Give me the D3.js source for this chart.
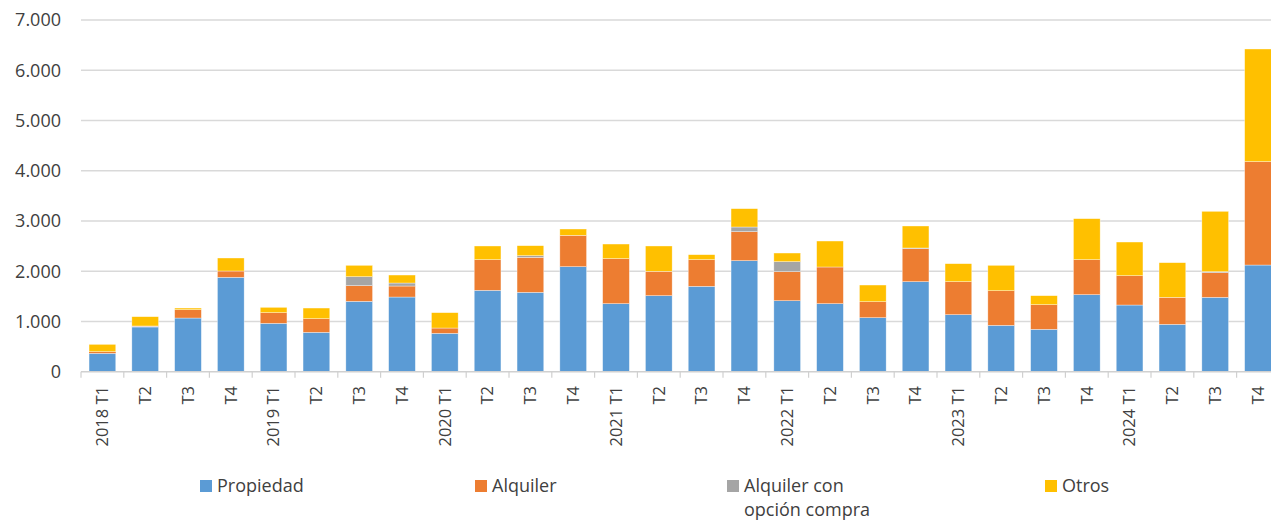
<!DOCTYPE html>
<html>
<head>
<meta charset="utf-8">
<script src="https://cdn.jsdelivr.net/npm/d3@7"></script>
<style>
  body { margin: 0; background: #fff; }
  svg text { font-family: "Open Sans", sans-serif; fill: #404040; }
</style>
</head>
<body>
<script>
// quarters 2018 T1 .. 2024 T4
const categories = [
  "2018 T1", "T2", "T3", "T4",
  "2019 T1", "T2", "T3", "T4",
  "2020 T1", "T2", "T3", "T4",
  "2021 T1", "T2", "T3", "T4",
  "2022 T1", "T2", "T3", "T4",
  "2023 T1", "T2", "T3", "T4",
  "2024 T1", "T2", "T3", "T4"
];

const propiedad = [365, 890, 1068, 1878, 962, 783, 1400, 1486, 763, 1619, 1579, 2090,
  1354, 1513, 1699, 2210, 1413, 1354, 1075, 1792, 1135, 922, 843, 1533, 1327, 942, 1480, 2123];
const alquiler = [33, 15, 166, 126, 213, 272, 312, 219, 106, 611, 697, 624,
  896, 484, 531, 577, 578, 730, 318, 657, 657, 690, 491, 697, 584, 538, 491, 2058];
const opcionCompra = [0, 5, 0, 0, 0, 0, 179, 60, 0, 0, 33, 0,
  0, 0, 0, 93, 199, 0, 0, 13, 0, 0, 0, 0, 0, 0, 20, 0];
const otros = [146, 185, 33, 259, 106, 212, 226, 159, 306, 272, 199, 126,
  291, 505, 99, 365, 172, 517, 332, 438, 358, 505, 179, 816, 670, 690, 1201, 2242];

const seriesNames = ["Propiedad", "Alquiler", "Alquiler con opción compra", "Otros"];
const seriesColors = ["#5B9BD5", "#ED7D31", "#A5A5A5", "#FFC000"];
const yTicks = [0, 1000, 2000, 3000, 4000, 5000, 6000, 7000];

const width = 1271, height = 521;
const plotLeft = 81, plotTop = 20, plotBottom = 371.7;
const step = 42.8;

const svg = d3.select("body").append("svg")
  .attr("width", width)
  .attr("height", height);

const rows = categories.map((c, i) => ({
  cat: i,
  label: c,
  s0: propiedad[i], s1: alquiler[i], s2: opcionCompra[i], s3: otros[i]
}));

const x = d3.scaleBand()
  .domain(d3.range(categories.length))
  .range([plotLeft, plotLeft + step * categories.length])
  .paddingInner(0.376)
  .paddingOuter(0.188);

const y = d3.scaleLinear()
  .domain([0, 7000])
  .range([plotBottom, plotTop]);

const fmt = d3.formatLocale({ decimal: ",", thousands: ".", grouping: [3], currency: ["", "€"] }).format(",");

// gridlines
svg.append("g")
  .selectAll("line")
  .data(yTicks.filter(d => d > 0))
  .join("line")
  .attr("x1", plotLeft).attr("x2", width)
  .attr("y1", d => y(d)).attr("y2", d => y(d))
  .attr("stroke", "#d9d9d9")
  .attr("stroke-width", 1.5);

// y labels
svg.append("g")
  .selectAll("text")
  .data(yTicks)
  .join("text")
  .attr("x", 61)
  .attr("y", d => y(d))
  .attr("dy", "0.35em")
  .attr("text-anchor", "end")
  .attr("font-size", 18)
  .text(d => fmt(d));

// stacked bars
const stack = d3.stack().keys(["s0", "s1", "s2", "s3"]);
const layers = stack(rows);

svg.append("g")
  .selectAll("g")
  .data(layers)
  .join("g")
  .attr("fill", (d, i) => seriesColors[i])
  .selectAll("rect")
  .data(d => d)
  .join("rect")
  .attr("x", d => x(d.data.cat))
  .attr("width", x.bandwidth())
  .attr("y", d => y(d[1]))
  .attr("height", d => Math.max(0, y(d[0]) - y(d[1])))
  .attr("stroke", "#fff")
  .attr("stroke-opacity", 0.6)
  .attr("stroke-width", 0.6);

// x axis
const xAxis = svg.append("g");
xAxis.append("line")
  .attr("x1", plotLeft).attr("x2", width)
  .attr("y1", plotBottom).attr("y2", plotBottom)
  .attr("stroke", "#d0d0d0")
  .attr("stroke-width", 1.5);

xAxis.selectAll("line.tick")
  .data(d3.range(categories.length + 1))
  .join("line")
  .attr("class", "tick")
  .attr("x1", d => plotLeft + d * x.step())
  .attr("x2", d => plotLeft + d * x.step())
  .attr("y1", plotBottom).attr("y2", plotBottom + 6)
  .attr("stroke", "#d0d0d0")
  .attr("stroke-width", 1.2);

xAxis.selectAll("text")
  .data(rows)
  .join("text")
  .attr("transform", d => "translate(" + (x(d.cat) + x.bandwidth() / 2) + "," + 386 + ") rotate(-90)")
  .attr("dy", "0.35em")
  .attr("text-anchor", "end")
  .attr("font-size", 16.5)
  .text(d => d.label);

// legend
const legendX = [200, 475, 727, 1045];
const legend = svg.append("g")
  .selectAll("g")
  .data(seriesNames)
  .join("g")
  .attr("transform", (d, i) => "translate(" + legendX[i] + ",480)");

legend.append("rect")
  .attr("width", 12).attr("height", 12)
  .attr("fill", (d, i) => seriesColors[i]);

legend.append("text")
  .attr("x", 17)
  .attr("y", 6)
  .attr("dy", "0.35em")
  .attr("font-size", 18)
  .each(function (d) {
    const t = d3.select(this);
    if (d === "Alquiler con opción compra") {
      t.append("tspan").attr("x", 17).text("Alquiler con");
      t.append("tspan").attr("x", 17).attr("dy", "1.3em").text("opción compra");
    } else {
      t.text(d);
    }
  });
</script>
</body>
</html>
